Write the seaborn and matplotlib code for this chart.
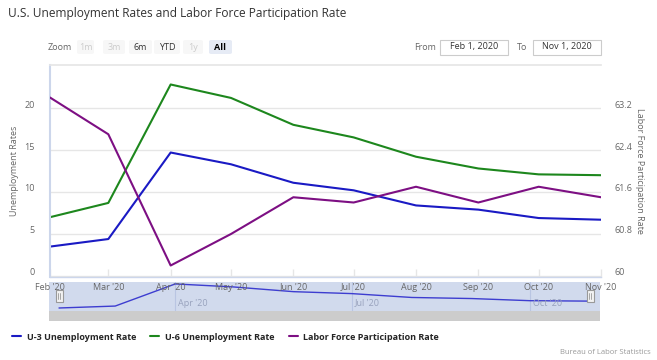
import numpy as np
import pandas as pd
import seaborn as sns
import matplotlib.pyplot as plt
import matplotlib.dates as mdates
import matplotlib.transforms as mtransforms
from matplotlib.patches import Rectangle, FancyBboxPatch

# monthly values, Feb 2020 - Nov 2020
months = ["2020-02-01", "2020-03-01", "2020-04-01", "2020-05-01", "2020-06-01",
          "2020-07-01", "2020-08-01", "2020-09-01", "2020-10-01", "2020-11-01"]
u3 = [3.5, 4.4, 14.7, 13.3, 11.1, 10.2, 8.4, 7.9, 6.9, 6.7]
u6 = [7.0, 8.7, 22.8, 21.2, 18.0, 16.5, 14.2, 12.8, 12.1, 12.0]
lfpr = [63.4, 62.7, 60.2, 60.8, 61.5, 61.4, 61.7, 61.4, 61.7, 61.5]

left_ticks = [0, 5, 10, 15, 20]
right_ticks = [60, 60.8, 61.6, 62.4, 63.2]
nav_ticks = ["2020-04-01", "2020-07-01", "2020-10-01"]
zoom_buttons = ["1m", "3m", "6m", "YTD", "1y", "All"]

df = pd.DataFrame({"date": pd.to_datetime(months), "u3": u3, "u6": u6, "lfpr": lfpr})

sns.set_theme(style="white")
plt.rcParams['font.family'] = ['Open Sans', 'DejaVu Sans']

W, H = 657, 360
fig = plt.figure(figsize=(W / 100, H / 100), dpi=100)


def box(x0, y0, x1, y1):
    return [x0 / W, 1 - y1 / H, (x1 - x0) / W, (y1 - y0) / H]


def fx(x):
    return x / W


def fy(y):
    return 1 - y / H


BLUE, GREEN, PURPLE = "#1a1ac4", "#1d871d", "#7d0f83"
GRAY = "#666666"

# main chart
ax = fig.add_axes(box(50, 65, 601, 277))
sns.lineplot(data=df, x="date", y="u3", color=BLUE, lw=1.5, ax=ax, label="U-3 Unemployment Rate", legend=False)
sns.lineplot(data=df, x="date", y="u6", color=GREEN, lw=1.5, ax=ax, label="U-6 Unemployment Rate", legend=False)
ax2 = ax.twinx()
sns.lineplot(data=df, x="date", y="lfpr", color=PURPLE, lw=1.5, ax=ax2, label="Labor Force Participation Rate", legend=False)

ax.set_xlim(df.date.iloc[0], df.date.iloc[-1])
ax.set_ylim(-0.12, 25.12)
ax2.set_ylim(60 - 0.12 * 0.16, 60 + 25.12 * 0.16)
ax.set_yticks(left_ticks)
ax2.set_yticks(right_ticks)
ax2.set_yticklabels([f"{v:g}" for v in right_ticks])
ax.yaxis.grid(True, color="#e6e6e6", lw=1)
ax.xaxis.grid(False)
ax.set_facecolor("white")

ax.xaxis.set_major_locator(mdates.MonthLocator())
ax.xaxis.set_major_formatter(mdates.DateFormatter("%b '%y"))
ax.tick_params(axis="x", direction="in", length=6, width=1, color="#e6e6e6", labelsize=6.5,
               labelcolor=GRAY, pad=4, bottom=True)
ax.tick_params(axis="y", length=0, labelsize=6.5, labelcolor=GRAY, pad=11)
ax2.tick_params(axis="y", length=0, labelsize=6.5, labelcolor=GRAY, pad=10)

ax.spines["right"].set_visible(False)
ax.spines["left"].set_color("#ccd6eb")
ax.spines["left"].set_linewidth(1.5)
ax.spines["bottom"].set_color("#ccd6eb")
ax.spines["bottom"].set_linewidth(1)
ax.spines["top"].set_color("#e6e6e6")
for s in ax2.spines.values():
    s.set_visible(False)

# lift y labels slightly above their grid lines
off = mtransforms.ScaledTranslation(0, 0.04, fig.dpi_scale_trans)
for t in ax.yaxis.get_major_ticks() + ax2.yaxis.get_major_ticks():
    t.label1.set_transform(t.label1.get_transform() + off)
    t.label2.set_transform(t.label2.get_transform() + off)

ax.set_xlabel("")
ax.set_ylabel("Unemployment Rates", color=GRAY, fontsize=6.5)
ax.yaxis.set_label_coords((19 - 50) / 551, 0.5)
ax2.set_ylabel("Labor Force Participation Rate", color=GRAY, fontsize=6.5, rotation=270, va="center")
ax2.yaxis.set_label_coords((640 - 50) / 551, 0.5)

# navigator
nav = fig.add_axes(box(49, 282, 600, 311))
d0, d1 = df.date.iloc[0], df.date.iloc[-1]
pad_days = pd.Timedelta(days=5.16)
nav.set_facecolor("#d1daed")
sns.lineplot(data=df, x="date", y="u3", color="#3d3dd0", lw=1, ax=nav, legend=False)
nav.set_xlim(d0 - pad_days, d1 + pad_days)
nav.set_ylim(2.1, 15.6)
nav.set_xticks([])
nav.set_yticks([])
nav.set_xlabel("")
nav.set_ylabel("")
for s in nav.spines.values():
    s.set_visible(False)
blend = mtransforms.blended_transform_factory(nav.transData, nav.transAxes)
for d in pd.to_datetime(nav_ticks):
    nav.axvline(d, color="#b9c5e2", lw=0.8, zorder=0)
    nav.text(d + pd.Timedelta(days=1.5), 0.12, d.strftime("%b '%y"), transform=blend,
             fontsize=6.5, color="#98a2bd", va="bottom", ha="left")

# keep the main x labels above the navigator band
nav.set_zorder(0)
ax.set_zorder(2)
ax2.set_zorder(3)
ax2.patch.set_visible(False)

# navigator handles
for hx in (59, 590):
    fig.patches.append(Rectangle((fx(hx - 3.5), fy(302)), 7 / W, 12 / H, transform=fig.transFigure,
                                 facecolor="#f2f2f2", edgecolor="#999999", lw=0.8, zorder=5))
    for lx in (hx - 1, hx + 1):
        fig.lines.append(plt.Line2D([fx(lx), fx(lx)], [fy(299), fy(293)], transform=fig.transFigure,
                                    color="#999999", lw=0.6, zorder=6))

# scrollbar
fig.patches.append(Rectangle((fx(49), fy(321)), 551 / W, 10 / H, transform=fig.transFigure,
                             facecolor="#cccccc", edgecolor="none", zorder=4))
fig.text(fx(54), fy(316), "◂", fontsize=5, color="#333333", ha="center", va="center", family="DejaVu Sans")
fig.text(fx(596), fy(316), "▸", fontsize=5, color="#333333", ha="center", va="center", family="DejaVu Sans")
fig.text(fx(325), fy(316), "III", fontsize=4.5, color="#333333", ha="center", va="center", family="DejaVu Sans")

# title
fig.text(fx(8), fy(14), "U.S. Unemployment Rates and Labor Force Participation Rate",
         fontsize=8.6, color="#333333", va="center", ha="left")

# range selector buttons
fig.text(fx(48), fy(47), "Zoom", fontsize=6.5, color=GRAY, va="center")
btn_pos = [(77, 94), (103, 125), (129, 152), (154, 180), (183, 203), (209, 232)]
btn_state = ["off", "off", "on", "on", "off", "sel"]
for lab, (x0, x1), st in zip(zoom_buttons, btn_pos, btn_state):
    bg = "#e6ebf5" if st == "sel" else "#f7f7f7"
    fig.patches.append(FancyBboxPatch((fx(x0), fy(54)), (x1 - x0) / W, 14 / H,
                                      boxstyle="round,pad=0,rounding_size=0.004",
                                      transform=fig.transFigure, facecolor=bg, edgecolor="none"))
    col = {"off": "#cccccc", "on": "#333333", "sel": "#000000"}[st]
    fig.text(fx((x0 + x1) / 2), fy(47), lab, fontsize=6.5, color=col, ha="center", va="center",
             weight="bold" if st == "sel" else "normal")

# date inputs
fig.text(fx(436), fy(47), "From", fontsize=6.5, color=GRAY, ha="right", va="center")
fig.text(fx(527), fy(47), "To", fontsize=6.5, color=GRAY, ha="right", va="center")
for (x0, x1), lab in [((440, 508), "Feb 1, 2020"), ((533, 601), "Nov 1, 2020")]:
    fig.patches.append(Rectangle((fx(x0), fy(55)), (x1 - x0) / W, 15 / H, transform=fig.transFigure,
                                 facecolor="white", edgecolor="#cccccc", lw=0.8))
    fig.text(fx((x0 + x1) / 2), fy(47), lab, fontsize=6.5, color="#333333", ha="center", va="center")

# legend
handles = ax.lines[:2] + ax2.lines[:1]
fig.legend(handles=handles, labels=[h.get_label() for h in handles], loc="center left",
           bbox_to_anchor=(fx(4), fy(337)), ncol=3, frameon=False, handlelength=1.0,
           handletextpad=0.6, columnspacing=1.6, prop={"weight": "bold", "size": 6.5})

fig.text(fx(651), fy(352), "Bureau of Labor Statistics", fontsize=5.5, color="#999999",
         ha="right", va="center")

fig.savefig("out.png", dpi=100)
